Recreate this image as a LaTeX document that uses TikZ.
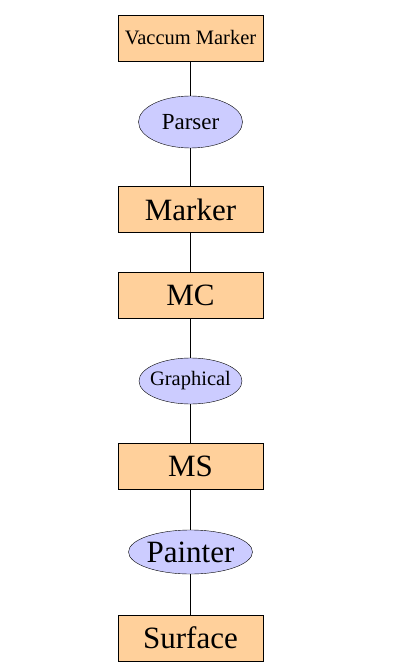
\documentclass[tikz,border=0pt]{standalone}
\usepackage{fontspec}
\setmainfont{Liberation Serif}
\usetikzlibrary{shapes.geometric}
\definecolor{boxfill}{RGB}{255,208,155}
\definecolor{ovalfill}{RGB}{204,204,255}

\begin{document}
\begin{tikzpicture}[x=1pt, y=-1pt,
        stagebox/.style = {rectangle, draw, fill=boxfill, minimum width=145pt, minimum height=46pt, inner sep=0pt, font=\fontsize{31}{31}\selectfont},
        toolnode/.style = {ellipse, draw, fill=ovalfill, inner sep=0pt},
        link/.style = {draw, line width=0.7pt}
        ]
        \useasboundingbox (0,0) rectangle (405,663);
        \node[stagebox, font=\fontsize{20.5}{20.5}\selectfont] (vaccum) at (190.5,38) {Vaccum Marker};
        \node[toolnode, minimum width=104pt, minimum height=52pt, font=\fontsize{23}{23}\selectfont] (parser) at (190.5,122) {Parser};
        \node[stagebox] (marker) at (190.5,209.5) {Marker};
        \node[stagebox] (mc) at (190.5,295.5) {MC};
        \node[toolnode, inner xsep=-4.5pt, minimum width=103pt, minimum height=46pt, font=\fontsize{20.5}{20.5}\selectfont] (graphical) at (190.5,381) {Graphical};
        \node[toolnode, inner xsep=-2.5pt, minimum width=124pt, minimum height=44pt, font=\fontsize{31}{31}\selectfont] (painter) at (190.5,552) {Painter};
        \node[stagebox] (ms) at (190.5,466.5) {MS};
        \node[stagebox] (surface) at (190.5,638) {Surface};

        \draw[link] (vaccum) -- (parser);
        \draw[link] (parser) -- (marker);
        \draw[link] (marker) -- (mc);
        \draw[link] (mc) -- (graphical);
        \draw[link] (graphical) -- (ms);
        \draw[link] (ms) -- (painter);
        \draw[link] (painter) -- (surface);
\end{tikzpicture}
\end{document}
